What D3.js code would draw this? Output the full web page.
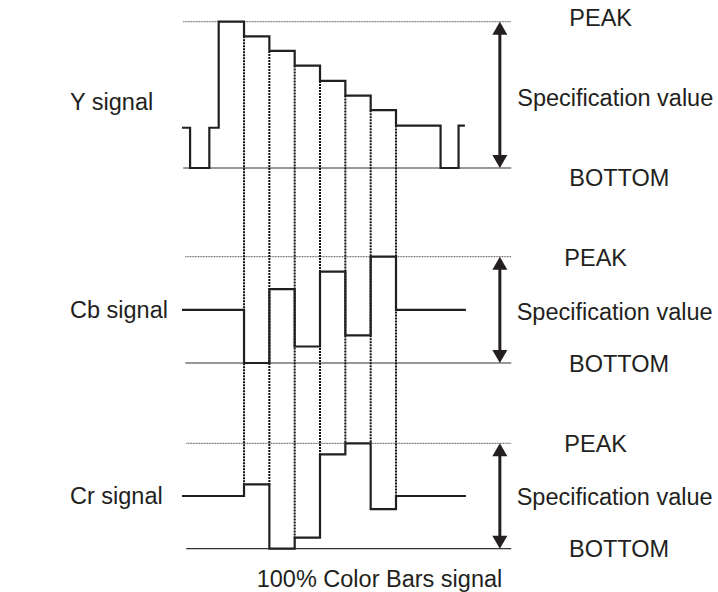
<!DOCTYPE html>
<html>
<head>
<meta charset="utf-8">
<script src="https://cdn.jsdelivr.net/npm/d3@7/dist/d3.min.js"></script>
<style>
  html, body { margin: 0; padding: 0; background: #fff; }
  svg { display: block; }
  text { font-family: "Liberation Sans", Arial, Helvetica, sans-serif; font-size: 23.5px; fill: #231f20; }
</style>
</head>
<body>
<svg id="chart" width="718" height="592"></svg>
<script>
// Time axis is in bar widths: 0 = start of the white bar, 7 = end of the blue bar.
const barNames = ["White", "Yellow", "Cyan", "Green", "Magenta", "Red", "Blue"];
const transitions = [1, 2, 3, 4, 5, 6, 7];

// Levels are in percent of the PEAK-BOTTOM span (0 = BOTTOM, 100 = PEAK).
// Each point holds its level until the next point's time.
const ySignal = [
  [-1.45, 27.5], [-1.13, 0], [-0.37, 27.5],
  [0, 100], [1, 90], [2, 80], [3, 70], [4, 59.5], [5, 49.5], [6, 39.5],
  [7, 29], [8.76, 0], [9.47, 29], [9.72, 29]
];
const cbSignal = [
  [-1.45, 50], [1, 0], [2, 69.5], [3, 15.5], [4, 86], [5, 26], [6, 100],
  [7, 50], [9.76, 50]
];
const crSignal = [
  [-1.45, 50], [1, 61], [2, 0], [3, 10.5], [4, 89.5], [5, 100], [6, 37.5],
  [7, 50], [9.76, 50]
];

const signalNames = ["Y signal", "Cb signal", "Cr signal"];
const peakLabel = "PEAK";
const specLabel = "Specification value";
const bottomLabel = "BOTTOM";
const caption = "100% Color Bars signal";

const svg = d3.select("#chart");

const x = d3.scaleLinear().domain([0, 7]).range([218.7, 396]);

// One vertical scale per signal panel.
const panels = [
  { name: signalNames[0], data: ySignal,  y: d3.scaleLinear().domain([0, 100]).range([168, 21.7]),
    guideStart: -1.4,
    labelY: 110, peakX: 569.3, peakY: 26, specX: 517.3, specY: 106, bottomX: 569.3, bottomY: 186 },
  { name: signalNames[1], data: cbSignal, y: d3.scaleLinear().domain([0, 100]).range([363, 256.7]),
    guideStart: -1.32,
    labelY: 318, peakX: 564.3, peakY: 265.7, specX: 516.7, specY: 320, bottomX: 569, bottomY: 372 },
  { name: signalNames[2], data: crSignal, y: d3.scaleLinear().domain([0, 100]).range([548.7, 443.3]),
    guideStart: -1.28,
    labelY: 504, peakX: 564.3, peakY: 451.7, specX: 516.7, specY: 505, bottomX: 569, bottomY: 556.7 }
];
const guideEnd = 11.55;
const arrowT = 11.1;

// Level of a step signal just before and just after time t.
function levelsAt(data, t) {
  let before = data[0][1], after = data[0][1];
  for (let i = 0; i < data.length; i++) {
    if (data[i][0] < t) before = data[i][1];
    if (data[i][0] <= t) after = data[i][1];
  }
  return [before, after];
}

// PEAK and BOTTOM guide lines
panels.forEach(p => {
  svg.append("line")
    .attr("x1", x(p.guideStart)).attr("x2", x(guideEnd))
    .attr("y1", p.y(100)).attr("y2", p.y(100))
    .attr("stroke", "#6f6f6f").attr("stroke-width", 1.2)
    .attr("stroke-dasharray", "1,0.6");
  svg.append("line")
    .attr("x1", x(p.guideStart)).attr("x2", x(guideEnd))
    .attr("y1", p.y(0)).attr("y2", p.y(0))
    .attr("stroke", "#333").attr("stroke-width", 1.2);
});

// Dotted timing lines from the Y step down to the Cr step at each bar edge
const yPanel = panels[0], crPanel = panels[2];
svg.append("g").selectAll("line")
  .data(transitions)
  .join("line")
  .attr("x1", t => x(t)).attr("x2", t => x(t))
  .attr("y1", t => yPanel.y(d3.min(levelsAt(ySignal, t))))
  .attr("y2", t => crPanel.y(d3.max(levelsAt(crSignal, t))))
  .attr("stroke", "#111")
  .attr("stroke-width", 2)
  .attr("stroke-dasharray", "2,1");

// Step waveforms
panels.forEach(p => {
  const line = d3.line()
    .x(d => x(d[0]))
    .y(d => p.y(d[1]))
    .curve(d3.curveStepAfter);
  svg.append("path")
    .datum(p.data)
    .attr("d", line)
    .attr("fill", "none")
    .attr("stroke", "#231f20")
    .attr("stroke-width", 2.2)
    .attr("stroke-linejoin", "miter");
});

// Double-headed arrows spanning BOTTOM to PEAK
const headW = 7.5, headH = 13;
panels.forEach(p => {
  const ax = x(arrowT), top = p.y(100), bot = p.y(0);
  svg.append("line")
    .attr("x1", ax).attr("x2", ax)
    .attr("y1", top + headH - 1).attr("y2", bot - headH + 1)
    .attr("stroke", "#231f20").attr("stroke-width", 3);
  svg.append("path")
    .attr("d", `M${ax},${top} L${ax - headW},${top + headH} L${ax + headW},${top + headH} Z`)
    .attr("fill", "#231f20");
  svg.append("path")
    .attr("d", `M${ax},${bot} L${ax - headW},${bot - headH} L${ax + headW},${bot - headH} Z`)
    .attr("fill", "#231f20");
});

// Labels
panels.forEach(p => {
  svg.append("text").attr("x", 70).attr("y", p.labelY).text(p.name);
  svg.append("text").attr("x", p.peakX).attr("y", p.peakY).text(peakLabel);
  svg.append("text").attr("x", p.specX).attr("y", p.specY).text(specLabel);
  svg.append("text").attr("x", p.bottomX).attr("y", p.bottomY).text(bottomLabel);
});

svg.append("text").attr("x", 256.7).attr("y", 587).text(caption);
</script>
</body>
</html>
